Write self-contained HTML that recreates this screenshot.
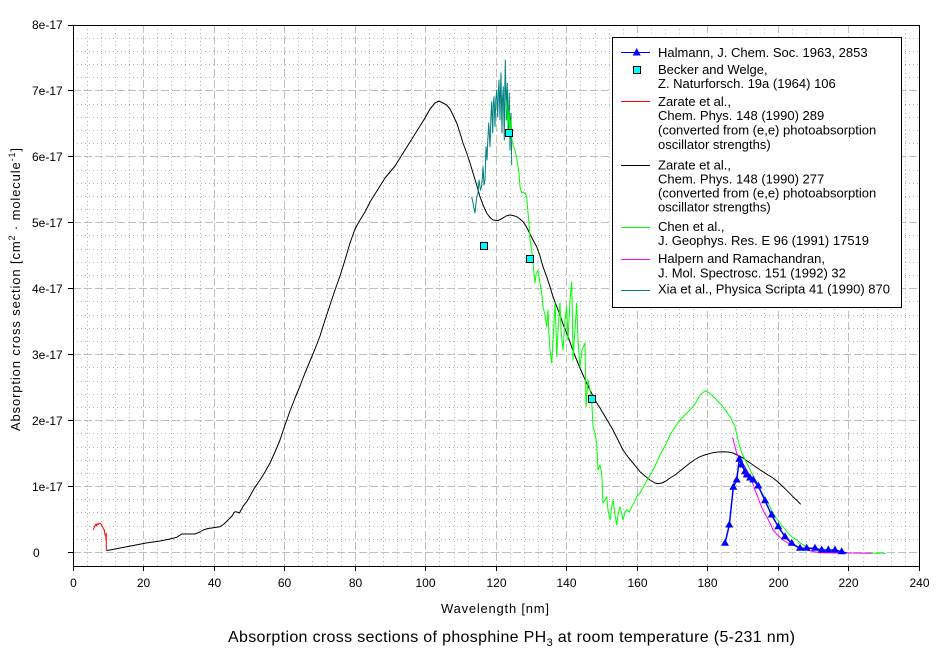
<!DOCTYPE html>
<html><head><meta charset="utf-8"><style>
html,body{margin:0;padding:0;background:#fff;}
svg{display:block;font-family:"Liberation Sans",Arial,sans-serif;}
</style></head><body>
<svg width="944" height="659" viewBox="0 0 944 659" xmlns="http://www.w3.org/2000/svg">
<rect x="0" y="0" width="944" height="659" fill="#fff"/>
<!-- minor grid (dotted) -->
<g stroke="#b8b8b8" stroke-width="1" stroke-dasharray="1,3" shape-rendering="crispEdges" fill="none">
<path d="M87.5 25V566M101.5 25V566M115.5 25V566M129.5 25V566M157.5 25V566M171.5 25V566M185.5 25V566M200.5 25V566M228.5 25V566M242.5 25V566M256.5 25V566M270.5 25V566M298.5 25V566M312.5 25V566M327.5 25V566M341.5 25V566M369.5 25V566M383.5 25V566M397.5 25V566M411.5 25V566M439.5 25V566M454.5 25V566M468.5 25V566M482.5 25V566M510.5 25V566M524.5 25V566M538.5 25V566M552.5 25V566M580.5 25V566M595.5 25V566M609.5 25V566M623.5 25V566M651.5 25V566M665.5 25V566M679.5 25V566M693.5 25V566M721.5 25V566M736.5 25V566M750.5 25V566M764.5 25V566M792.5 25V566M806.5 25V566M820.5 25V566M834.5 25V566M863.5 25V566M877.5 25V566M891.5 25V566M905.5 25V566"/>
<path d="M73 539.5H919M73 526.5H919M73 512.5H919M73 499.5H919M73 473.5H919M73 460.5H919M73 447.5H919M73 433.5H919M73 407.5H919M73 394.5H919M73 381.5H919M73 367.5H919M73 341.5H919M73 328.5H919M73 315.5H919M73 301.5H919M73 275.5H919M73 262.5H919M73 249.5H919M73 235.5H919M73 209.5H919M73 196.5H919M73 183.5H919M73 170.5H919M73 143.5H919M73 130.5H919M73 117.5H919M73 104.5H919M73 77.5H919M73 64.5H919M73 51.5H919M73 38.5H919"/>
</g>
<!-- major grid (dashed) -->
<g stroke="#c0c0c0" stroke-width="1" stroke-dasharray="8,3" shape-rendering="crispEdges" fill="none">
<path d="M143.5 25V566M214.5 25V566M284.5 25V566M355.5 25V566M425.5 25V566M496.5 25V566M566.5 25V566M637.5 25V566M707.5 25V566M778.5 25V566M848.5 25V566"/>
<path d="M73 552.5H919M73 486.5H919M73 420.5H919M73 354.5H919M73 288.5H919M73 222.5H919M73 156.5H919M73 90.5H919"/>
</g>

<!-- data -->
<g fill="none" stroke-width="1" stroke-linejoin="round">
<polyline stroke="#ff0000" points="93.3,530 94.3,527 95.7,524.3 96.3,526 97,523.7 98,524.7 99,523.3 100.3,523.3 101.7,525 103.3,528.3 104.3,530 105,535 105.7,535 106,540 106.3,533.3 106.3,550"/>
<polyline stroke="#000" points="106.3,550.5 110,550 120,548 133.3,545.5 146,543 160,541 170,539 176.7,537.3 181.7,534 195,534 200,532 203.3,530 208,528.5 213.3,527.7 220,526.7 224,524 228,520 232,516 233.8,513 235,511.7 237,512 239.5,513 241,510 244,505 246.7,501.7 250,496 253.3,490 256.5,485 260,480 265,472 270,463 275,452 280,440 285,425 290,411 295,398 300,386 305,373 310,361 315,349 320,336 325,320 330,305 335,290 340,276 345,260 350,243 355,229 360,220 365,212 370,202 375,194 380,186 385,178 390,172 395,166 400,158 405,150 410,142 415,134 420,126 425,118 430,109 435,103 439,101 442,102.5 446.7,105 450,109 453,115 456.7,123 460,133 463,143 466.7,153 470,163 473,173 476.7,185 480,196.7 483,205 486.7,213 490,217.5 493,220 498,220.7 503,218 506,216 510,215 513,215.5 516.7,216.7 520,219 523,221.7 526,226 528,230 530,234 533,240 536.7,246.7 540,256 543,266.7 546.7,276.7 550,286.7 553,296.7 556.7,306.7 560,315 563,324 566.7,333 570,342 573,351 576.7,360 580,368 583,375 586.7,383 590,390 595,400 600,408 603,413 608,421.5 613,430 618,440 623,450 628,457 633,463 637,468 640,471.7 645,476 650,480 655,483 658,483.6 662,483 666,481 670,478 675,475 680,471 685,467 690,463 695,459.5 700,456.7 706,454.5 713,452.7 718,452 723,451.7 728,452 733,453 738,455.5 743,458 748,461.5 753,465 758,468.5 763,471.7 768,475 773,478 778,482 783,486.7 788,491.7 793,496.7 797,500.5 800.7,504.3"/>
<polyline stroke="#008080" points="471.7,196.7 473,203 475,213 476.7,196.7 478,193 479,180 480.5,190 481.7,186 483,166.7 484,185 485,180 486,146.7 487,160 487.8,140 488.7,123 490,146.7 491,115 491.7,101.7 492.7,133 493.3,105 494,96.7 495,126.7 495.8,100 496.7,90 497.7,116.7 498.3,95 499,80 500,120 500.5,90 501,73 502,133 502.5,100 503.3,86.7 504.3,140 504.8,90 505.3,60 506.3,120 506.8,95 507.3,83.3 508.3,136.7 508.8,110 509.3,93.3 510,150 510.5,120 511,113.3 511.7,165"/>
<polyline stroke="#00ff00" points="506,100 508,125 509,110 510,135 511,120 512,140 513,145 515,150 517,160 519,173 520,186.7 521.7,193 523,192 525,192.7 526.7,196.7 528,213 529,222 530,240 531.7,250 533,263 535,283 536,275 538,270 540,283 541.7,293 543,306.7 545,315 546.7,326.7 548,310 549,335 550,350 551.7,363 553,340 555,303 556,330 556.7,356.7 558,330 560,303 561,330 563,350 565,320 566.7,306.7 568,340 569,320 570,300 571.7,281.7 572.5,320 573,360 575,330 576.7,303 578,340 580,366.7 582,350 585,343 586,406.7 588,380 590,390 591.7,400 593,426.7 595,433 596.7,443 597.5,460 598,470 600,465 601.7,473 603,503 605,500 606.7,496.7 608,510 610,520 612,505 613,500 615,515 616.7,525 618,515 620,506.7 622,515 623,520 625,512 626.7,510 629,512 631.7,506.7 634,503 636.7,496.7 640,493 645,484 650,475 655,466 660,455 665,446 670,435 675,427 680,420 685,415 690,410 695,404 700,395 705,390.7 710,393.3 716.7,400 723,406.7 730,416.7 735,426.7 738,440 741.7,453 746.7,463 751.7,473 758,486.7 762,493 766.7,500 770,507 773,513 776,518 780,523 784,528 788,533 792,537 796.7,540 801,543.5 806.7,546.7 813,549 820,550.7 826,552 833,552.7 850,553 886,553.3"/>
<polyline stroke="#ff00ff" points="732.7,437.3 734,443 736.7,453 740,460 742,463 745,467 748,472 750,476.7 752.5,483 755,490 757.5,496 760,503 763,510 766.7,516.7 770,523 773,530 778,535.5 783,540 788,543 793,545 800,548 806.7,550 813,551.5 820,552.7 835,553 850,553 871.7,553.3"/>
<polyline stroke="#0000ff" stroke-width="1.5" points="725,543.3 729.3,525 733.3,487.3 736.7,480 739.3,459.3 741.7,465 745,471.7 746.7,475 750,478 753.3,480 758.3,486 765,500.7 771.7,515 778.3,526.7 785,536.7 791.7,543.3 800,548.3 806.7,548.3 815,548.3 821.7,550 828.3,550 835,550 841.7,551.7 846.7,553"/>
</g>
<g fill="#0000ff">
<polygon points="725,538.8 721,545.8 729,545.8"/>
<polygon points="729.3,520.5 725.3,527.5 733.3,527.5"/>
<polygon points="733.3,482.8 729.3,489.8 737.3,489.8"/>
<polygon points="736.7,475.5 732.7,482.5 740.7,482.5"/>
<polygon points="739.3,454.8 735.3,461.8 743.3,461.8"/>
<polygon points="741.7,460.5 737.7,467.5 745.7,467.5"/>
<polygon points="745,467.2 741,474.2 749,474.2"/>
<polygon points="746.7,470.5 742.7,477.5 750.7,477.5"/>
<polygon points="750,473.5 746,480.5 754,480.5"/>
<polygon points="753.3,475.5 749.3,482.5 757.3,482.5"/>
<polygon points="758.3,481.5 754.3,488.5 762.3,488.5"/>
<polygon points="765,496.2 761,503.2 769,503.2"/>
<polygon points="771.7,510.5 767.7,517.5 775.7,517.5"/>
<polygon points="778.3,522.2 774.3,529.2 782.3,529.2"/>
<polygon points="785,532.2 781,539.2 789,539.2"/>
<polygon points="791.7,538.8 787.7,545.8 795.7,545.8"/>
<polygon points="800,543.8 796,550.8 804,550.8"/>
<polygon points="806.7,543.8 802.7,550.8 810.7,550.8"/>
<polygon points="815,543.8 811,550.8 819,550.8"/>
<polygon points="821.7,545.5 817.7,552.5 825.7,552.5"/>
<polygon points="828.3,545.5 824.3,552.5 832.3,552.5"/>
<polygon points="835,545.5 831,552.5 839,552.5"/>
<polygon points="841.7,547.2 837.7,554.2 845.7,554.2"/>
</g>
<g fill="#00ffff" stroke="#000" stroke-width="1" shape-rendering="crispEdges">
<rect x="480.5" y="242.5" width="7" height="7"/>
<rect x="505.5" y="129.5" width="7" height="7"/>
<rect x="526.5" y="255.5" width="7" height="7"/>
<rect x="588.5" y="395.5" width="7" height="7"/>
</g>

<!-- frame -->
<g stroke="#000" stroke-width="1" fill="none" shape-rendering="crispEdges">
<rect x="73.5" y="25.5" width="846" height="541"/>
<path d="M68 552.5H73M68 486.5H73M68 420.5H73M68 354.5H73M68 288.5H73M68 222.5H73M68 156.5H73M68 90.5H73M68 25.5H73"/>
<path d="M73.5 566V571M143.5 566V571M214.5 566V571M284.5 566V571M355.5 566V571M425.5 566V571M496.5 566V571M566.5 566V571M637.5 566V571M707.5 566V571M778.5 566V571M848.5 566V571M919.5 566V571"/>
</g>

<g font-size="12" fill="#000">
<text x="32" y="29">8e-17</text>
<text x="32" y="95">7e-17</text>
<text x="32" y="161">6e-17</text>
<text x="32" y="227">5e-17</text>
<text x="32" y="293">4e-17</text>
<text x="32" y="359">3e-17</text>
<text x="32" y="425">2e-17</text>
<text x="32" y="491">1e-17</text>
<text x="33" y="557">0</text>
</g>
<g font-size="12" fill="#000" text-anchor="middle">
<text x="73.5" y="587">0</text>
<text x="143.5" y="587">20</text>
<text x="214.5" y="587">40</text>
<text x="284.5" y="587">60</text>
<text x="355.5" y="587">80</text>
<text x="425.5" y="587">100</text>
<text x="496.5" y="587">120</text>
<text x="566.5" y="587">140</text>
<text x="637.5" y="587">160</text>
<text x="707.5" y="587">180</text>
<text x="778.5" y="587">200</text>
<text x="848.5" y="587">220</text>
<text x="919.5" y="587">240</text>
</g>

<text x="441" y="613" font-size="13" textLength="108" lengthAdjust="spacing">Wavelength [nm]</text>
<text transform="translate(20,431) rotate(-90)" font-size="13" textLength="283" lengthAdjust="spacing">Absorption cross section [cm<tspan font-size="9" dy="-5">2</tspan><tspan dy="5"> · molecule</tspan><tspan font-size="9" dy="-5">-1</tspan><tspan dy="5">]</tspan></text>
<text x="228" y="642" font-size="16" textLength="567" lengthAdjust="spacing">Absorption cross sections of phosphine PH<tspan font-size="11" dy="4">3</tspan><tspan dy="-4"> at room temperature (5-231 nm)</tspan></text>

<rect x="612.5" y="37.5" width="289" height="270" fill="#fff" stroke="#000" stroke-width="1" shape-rendering="crispEdges"/>
<g stroke-width="1" shape-rendering="crispEdges">
<line x1="621" y1="52.5" x2="650" y2="52.5" stroke="#0000ff"/>
<line x1="621" y1="101.5" x2="650" y2="101.5" stroke="#ff0000"/>
<line x1="621" y1="165.5" x2="650" y2="165.5" stroke="#000"/>
<line x1="621" y1="227.5" x2="650" y2="227.5" stroke="#00ff00"/>
<line x1="621" y1="259.5" x2="650" y2="259.5" stroke="#ff00ff"/>
<line x1="621" y1="290.5" x2="650" y2="290.5" stroke="#008080"/>
</g>
<polygon points="636.7,48 632.7,55.5 640.7,55.5" fill="#0000ff"/>
<rect x="633.5" y="66.5" width="7" height="7" fill="#00ffff" stroke="#000" stroke-width="1" shape-rendering="crispEdges"/>
<g font-size="13" fill="#000">
<text x="658" y="57">Halmann, J. Chem. Soc. 1963, 2853</text>
<text x="658" y="74">Becker and Welge,</text>
<text x="658" y="88">Z. Naturforsch. 19a (1964) 106</text>
<text x="658" y="106">Zarate et al.,</text>
<text x="658" y="120">Chem. Phys. 148 (1990) 289</text>
<text x="658" y="134.5">(converted from (e,e) photoabsorption</text>
<text x="658" y="149">oscillator strengths)</text>
<text x="658" y="169.5">Zarate et al.,</text>
<text x="658" y="183.5">Chem. Phys. 148 (1990) 277</text>
<text x="658" y="197.5">(converted from (e,e) photoabsorption</text>
<text x="658" y="211.5">oscillator strengths)</text>
<text x="658" y="231">Chen et al.,</text>
<text x="658" y="245">J. Geophys. Res. E 96 (1991) 17519</text>
<text x="658" y="263">Halpern and Ramachandran,</text>
<text x="658" y="277.5">J. Mol. Spectrosc. 151 (1992) 32</text>
<text x="658" y="293.5">Xia et al., Physica Scripta 41 (1990) 870</text>
</g>
</svg>
</body></html>
